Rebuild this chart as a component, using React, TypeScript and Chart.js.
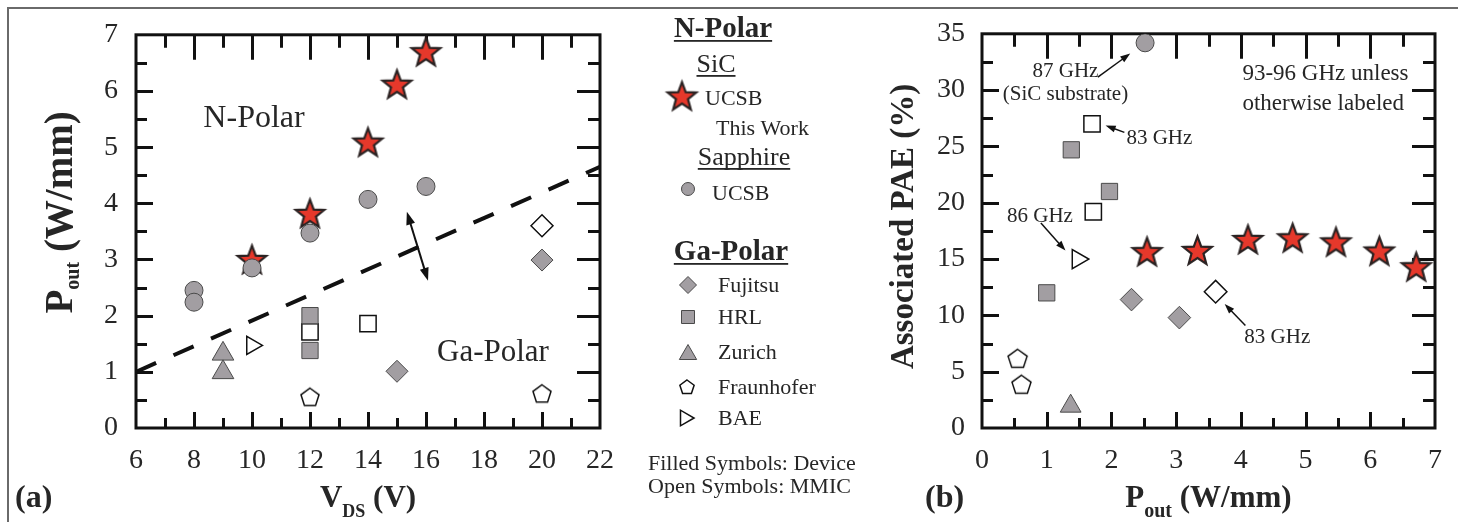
import React, { useEffect, useRef } from 'react';
import { Chart, registerables } from 'chart.js';

Chart.register(...registerables);

const W = 1458;
const H = 522;
const SERIF = '"Liberation Serif", "Times New Roman", serif';
const INK = '#111111';
const TXT = '#262626';
const GRAY = '#a29ea2';
const GRAY_EDGE = '#4a4a4a';
const STAR_RED = '#e6382b';

// ---------- Panel (a): Pout (W/mm) vs VDS (V) ----------
const xTicksA = [6, 8, 10, 12, 14, 16, 18, 20, 22];
const yTicksA = [0, 1, 2, 3, 4, 5, 6, 7];
const starVdsA = [10, 12, 14, 15, 16];
const starPoutA = [3.0, 3.82, 5.09, 6.12, 6.7];
const sapphireVdsA = [8, 8, 10, 12, 14, 16];
const sapphirePoutA = [2.45, 2.24, 2.85, 3.47, 4.07, 4.3];
const fujitsuDevVdsA = [15, 20];
const fujitsuDevPoutA = [1.01, 2.99];
const fujitsuMmicVdsA = [20];
const fujitsuMmicPoutA = [3.6];
const hrlDevVdsA = [12, 12];
const hrlDevPoutA = [2.0, 1.38];
const hrlMmicVdsA = [12, 14];
const hrlMmicPoutA = [1.71, 1.86];
const zurichVdsA = [9, 9];
const zurichPoutA = [1.32, 0.99];
const fraunhoferVdsA = [12, 20];
const fraunhoferPoutA = [0.54, 0.6];
const baeVdsA = [10];
const baePoutA = [1.47];
const trendVdsA = [6, 22];
const trendPoutA = [1.0, 4.65];

// ---------- Panel (b): Associated PAE (%) vs Pout (W/mm) ----------
const xTicksB = [0, 1, 2, 3, 4, 5, 6, 7];
const yTicksB = [0, 5, 10, 15, 20, 25, 30, 35];
const starPoutB = [2.55, 3.33, 4.11, 4.8, 5.47, 6.14, 6.71];
const starPaeB = [15.66, 15.77, 16.74, 16.89, 16.53, 15.72, 14.32];
const sicPoutB = [2.52];
const sicPaeB = [34.2];
const hrlDevPoutB = [1.38, 1.97, 1.0];
const hrlDevPaeB = [24.7, 21.0, 12.0];
const hrlMmicPoutB = [1.7, 1.72];
const hrlMmicPaeB = [27.0, 19.2];
const fujitsuDevPoutB = [2.31, 3.05];
const fujitsuDevPaeB = [11.4, 9.8];
const fujitsuMmicPoutB = [3.61];
const fujitsuMmicPaeB = [12.1];
const zurichPoutB = [1.37];
const zurichPaeB = [1.94];
const fraunhoferPoutB = [0.55, 0.61];
const fraunhoferPaeB = [6.1, 3.8];
const baePoutB = [1.48];
const baePaeB = [15.0];

const pts = (xs: number[], ys: number[]) => xs.map((x, i) => ({ x, y: ys[i] }));

function makeStar(R: number, ratio: number): HTMLCanvasElement {
  const lw = 2.2;
  const size = Math.ceil(2 * R + lw * 2 + 2);
  const c = document.createElement('canvas');
  c.width = size;
  c.height = size;
  const ctx = c.getContext('2d') as CanvasRenderingContext2D;
  ctx.translate(size / 2, size / 2 + R * 0.08);
  ctx.beginPath();
  for (let i = 0; i < 10; i++) {
    const rr = i % 2 === 0 ? R : R * ratio;
    const a = -Math.PI / 2 + (i * Math.PI) / 5;
    const px = Math.cos(a) * rr;
    const py = Math.sin(a) * rr;
    if (i === 0) ctx.moveTo(px, py);
    else ctx.lineTo(px, py);
  }
  ctx.closePath();
  ctx.fillStyle = STAR_RED;
  ctx.fill();
  ctx.lineJoin = 'miter';
  ctx.lineWidth = lw;
  ctx.strokeStyle = '#2a2222';
  ctx.stroke();
  return c;
}

function makePentagon(R: number): HTMLCanvasElement {
  const lw = 1.5;
  const size = Math.ceil(2 * R + lw * 2 + 2);
  const c = document.createElement('canvas');
  c.width = size;
  c.height = size;
  const ctx = c.getContext('2d') as CanvasRenderingContext2D;
  ctx.translate(size / 2, size / 2);
  pentPath(ctx, 0, 0, R);
  ctx.fillStyle = '#ffffff';
  ctx.fill();
  ctx.lineWidth = lw;
  ctx.strokeStyle = INK;
  ctx.stroke();
  return c;
}

function pentPath(ctx: CanvasRenderingContext2D, x: number, y: number, R: number) {
  ctx.beginPath();
  for (let i = 0; i < 5; i++) {
    const a = -Math.PI / 2 + (i * 2 * Math.PI) / 5;
    const px = x + Math.cos(a) * R;
    const py = y + Math.sin(a) * R;
    if (i === 0) ctx.moveTo(px, py);
    else ctx.lineTo(px, py);
  }
  ctx.closePath();
}

type Part = { t: string; size: number; bold?: boolean; dy?: number };

function fontOf(size: number, bold?: boolean) {
  return `${bold ? 'bold ' : ''}${size}px ${SERIF}`;
}

function drawRich(ctx: CanvasRenderingContext2D, parts: Part[], x: number, y: number, align: 'left' | 'center') {
  ctx.textBaseline = 'alphabetic';
  ctx.textAlign = 'left';
  let total = 0;
  for (const p of parts) {
    ctx.font = fontOf(p.size, p.bold);
    total += ctx.measureText(p.t).width;
  }
  let cx = align === 'center' ? x - total / 2 : x;
  for (const p of parts) {
    ctx.font = fontOf(p.size, p.bold);
    ctx.fillText(p.t, cx, y + (p.dy || 0));
    cx += ctx.measureText(p.t).width;
  }
  return total;
}

function text(
  ctx: CanvasRenderingContext2D,
  s: string,
  x: number,
  y: number,
  size: number,
  align: CanvasTextAlign = 'left',
  bold = false,
  underline = 0
) {
  ctx.font = fontOf(size, bold);
  ctx.textAlign = align;
  ctx.textBaseline = 'alphabetic';
  ctx.fillStyle = TXT;
  ctx.fillText(s, x, y);
  if (underline) {
    const w = ctx.measureText(s).width;
    const x0 = align === 'center' ? x - w / 2 : align === 'right' ? x - w : x;
    ctx.fillRect(x0, y + underline, w, 1.8);
  }
}

function arrow(
  ctx: CanvasRenderingContext2D,
  x1: number,
  y1: number,
  x2: number,
  y2: number,
  lw: number,
  hl: number,
  hw: number,
  both: boolean
) {
  const ang = Math.atan2(y2 - y1, x2 - x1);
  const head = (hx: number, hy: number, a: number) => {
    ctx.beginPath();
    ctx.moveTo(hx, hy);
    ctx.lineTo(hx - hl * Math.cos(a) + (hw / 2) * Math.sin(a), hy - hl * Math.sin(a) - (hw / 2) * Math.cos(a));
    ctx.lineTo(hx - hl * Math.cos(a) - (hw / 2) * Math.sin(a), hy - hl * Math.sin(a) + (hw / 2) * Math.cos(a));
    ctx.closePath();
    ctx.fill();
  };
  ctx.save();
  ctx.strokeStyle = INK;
  ctx.fillStyle = INK;
  ctx.lineWidth = lw;
  ctx.beginPath();
  const sx = both ? x1 + hl * 0.8 * Math.cos(ang) : x1;
  const sy = both ? y1 + hl * 0.8 * Math.sin(ang) : y1;
  ctx.moveTo(sx, sy);
  ctx.lineTo(x2 - hl * 0.8 * Math.cos(ang), y2 - hl * 0.8 * Math.sin(ang));
  ctx.stroke();
  head(x2, y2, ang);
  if (both) head(x1, y1, ang + Math.PI);
  ctx.restore();
}

function makeFrame(xMinor: number, yMinor: number) {
  return {
    id: 'frameTicks',
    beforeDatasetsDraw(chart: any) {
      const { ctx, chartArea: a } = chart;
      const sx = chart.scales.x;
      const sy = chart.scales.y;
      ctx.save();
      ctx.strokeStyle = INK;
      ctx.lineWidth = 3;
      ctx.lineCap = 'butt';
      const isMajor = (s: any, v: number) => s.ticks.some((t: any) => Math.abs(t.value - v) < 1e-6);
      const nx = Math.round((sx.max - sx.min) / xMinor);
      for (let i = 1; i < nx; i++) {
        const v = sx.min + i * xMinor;
        const px = Math.round(sx.getPixelForValue(v)) + 0.5;
        const mj = isMajor(sx, v);
        ctx.beginPath();
        ctx.moveTo(px, a.bottom);
        ctx.lineTo(px, a.bottom - (mj ? 16 : 10));
        ctx.moveTo(px, a.top);
        ctx.lineTo(px, a.top + (mj ? 25 : 13));
        ctx.stroke();
      }
      const ny = Math.round((sy.max - sy.min) / yMinor);
      for (let i = 1; i < ny; i++) {
        const v = sy.min + i * yMinor;
        const py = Math.round(sy.getPixelForValue(v)) + 0.5;
        const mj = isMajor(sy, v);
        ctx.beginPath();
        ctx.moveTo(a.left, py);
        ctx.lineTo(a.left + (mj ? 17 : 11), py);
        ctx.moveTo(a.right, py);
        ctx.lineTo(a.right - (mj ? 23 : 12), py);
        ctx.stroke();
      }
      ctx.strokeRect(a.left, a.top, a.right - a.left, a.bottom - a.top);
      ctx.restore();
    },
  };
}

function legendShape(ctx: CanvasRenderingContext2D, kind: string, x: number, y: number, r: number, filled: boolean) {
  ctx.save();
  ctx.beginPath();
  if (kind === 'circle') ctx.arc(x, y, r, 0, Math.PI * 2);
  else if (kind === 'square') ctx.rect(x - r, y - r, 2 * r, 2 * r);
  else if (kind === 'diamond') {
    ctx.moveTo(x - r, y);
    ctx.lineTo(x, y - r);
    ctx.lineTo(x + r, y);
    ctx.lineTo(x, y + r);
    ctx.closePath();
  } else if (kind === 'triangle') {
    for (let i = 0; i < 3; i++) {
      const a = -Math.PI / 2 + (i * 2 * Math.PI) / 3;
      const px = x + Math.cos(a) * r;
      const py = y + Math.sin(a) * r;
      if (i === 0) ctx.moveTo(px, py);
      else ctx.lineTo(px, py);
    }
    ctx.closePath();
  } else if (kind === 'triRight') {
    for (let i = 0; i < 3; i++) {
      const a = (i * 2 * Math.PI) / 3;
      const px = x + Math.cos(a) * r;
      const py = y + Math.sin(a) * r;
      if (i === 0) ctx.moveTo(px, py);
      else ctx.lineTo(px, py);
    }
    ctx.closePath();
  } else if (kind === 'pentagon') {
    pentPath(ctx, x, y, r);
  }
  ctx.fillStyle = filled ? GRAY : '#ffffff';
  ctx.fill();
  ctx.lineWidth = filled ? 1 : 1.5;
  ctx.strokeStyle = filled ? GRAY_EDGE : INK;
  ctx.stroke();
  ctx.restore();
}

const tickFont = { family: SERIF, size: 28 };

function baseOptions(pad: any, yWidth: number, xr: number[], yr: number[], xStep: number, yStep: number, yPad: number) {
  return {
    animation: false as const,
    responsive: false,
    devicePixelRatio: 1,
    events: [] as any[],
    layout: { padding: pad },
    plugins: { legend: { display: false }, tooltip: { enabled: false } },
    scales: {
      x: {
        type: 'linear' as const,
        min: xr[0],
        max: xr[xr.length - 1],
        afterBuildTicks: (s: any) => {
          s.ticks = xr.map((v) => ({ value: v }));
        },
        ticks: { stepSize: xStep, font: tickFont, color: TXT, padding: 16, autoSkip: false, maxRotation: 0 },
        grid: { display: false, drawTicks: false },
        border: { display: false },
        afterFit: (s: any) => {
          s.height = 94;
        },
      },
      y: {
        type: 'linear' as const,
        min: yr[0],
        max: yr[yr.length - 1],
        afterBuildTicks: (s: any) => {
          s.ticks = yr.map((v) => ({ value: v }));
        },
        ticks: { stepSize: yStep, font: tickFont, color: TXT, padding: yPad, autoSkip: false },
        grid: { display: false, drawTicks: false },
        border: { display: false },
        afterFit: (s: any) => {
          s.width = yWidth;
        },
      },
    },
  };
}

export default function App() {
  const refA = useRef<HTMLCanvasElement>(null);
  const refB = useRef<HTMLCanvasElement>(null);

  useEffect(() => {
    const star = makeStar(15, 0.42);
    const pentA = makePentagon(9.5);
    const pentB = makePentagon(10);
    const grayStyle = { backgroundColor: GRAY, borderColor: GRAY_EDGE, borderWidth: 1 };
    const openStyle = { backgroundColor: '#ffffff', borderColor: INK, borderWidth: 1.5 };

    const annotA = {
      id: 'annotA',
      afterDraw(chart: any) {
        const { ctx, chartArea: a } = chart;
        const X = (v: number) => chart.scales.x.getPixelForValue(v);
        const Y = (v: number) => chart.scales.y.getPixelForValue(v);
        ctx.save();
        text(ctx, 'N-Polar', X(10.07), Y(5.355), 32, 'center');
        text(ctx, 'Ga-Polar', X(18.31), Y(1.19), 31, 'center');
        arrow(ctx, X(15.34), Y(3.85), X(16.07), Y(2.62), 2, 13, 9, true);

        // axis titles
        ctx.fillStyle = TXT;
        drawRich(
          ctx,
          [
            { t: 'V', size: 31, bold: true },
            { t: 'DS', size: 18, bold: true, dy: 10 },
            { t: ' (V)', size: 31, bold: true },
          ],
          (a.left + a.right) / 2,
          a.bottom + 79,
          'center'
        );
        ctx.save();
        ctx.translate(a.left - 64, (a.top + a.bottom) / 2 - 19);
        ctx.rotate(-Math.PI / 2);
        drawRich(
          ctx,
          [
            { t: 'P', size: 39, bold: true },
            { t: 'out', size: 20, bold: true, dy: 7 },
            { t: ' (W/mm)', size: 39, bold: true },
          ],
          0,
          0,
          'center'
        );
        ctx.restore();
        text(ctx, '(a)', 15, 507, 32, 'left', true);

        // legend
        text(ctx, 'N-Polar', 723, 37, 29, 'center', true, 3);
        text(ctx, 'SiC', 716, 72, 26, 'center', false, 3);
        ctx.drawImage(star, 682 - star.width / 2, 96 - star.height / 2);
        text(ctx, 'UCSB', 705, 105, 22);
        text(ctx, 'This Work', 716, 135, 22);
        text(ctx, 'Sapphire', 744, 165, 26, 'center', false, 3);
        legendShape(ctx, 'circle', 688, 189, 6.5, true);
        text(ctx, 'UCSB', 712, 200, 22);
        text(ctx, 'Ga-Polar', 731, 260, 29, 'center', true, 3);
        legendShape(ctx, 'diamond', 688, 285, 8.5, true);
        text(ctx, 'Fujitsu', 718, 292, 22);
        legendShape(ctx, 'square', 688, 317, 6.5, true);
        text(ctx, 'HRL', 718, 324, 22);
        legendShape(ctx, 'triangle', 688, 354.5, 10, true);
        text(ctx, 'Zurich', 718, 359, 22);
        legendShape(ctx, 'pentagon', 687, 387.5, 7.5, false);
        text(ctx, 'Fraunhofer', 718, 394, 22);
        legendShape(ctx, 'triRight', 685, 418, 9, false);
        text(ctx, 'BAE', 718, 425, 22);
        text(ctx, 'Filled Symbols: Device', 648, 470, 22);
        text(ctx, 'Open Symbols: MMIC', 648, 493, 22);
        ctx.restore();
      },
    };

    const annotB = {
      id: 'annotB',
      afterDraw(chart: any) {
        const { ctx, chartArea: a } = chart;
        const X = (v: number) => chart.scales.x.getPixelForValue(v);
        const Y = (v: number) => chart.scales.y.getPixelForValue(v);
        ctx.save();
        text(ctx, '87 GHz', X(1.29), Y(31.15), 21, 'center');
        text(ctx, '(SiC substrate)', X(1.29), Y(29.13), 21, 'center');
        arrow(ctx, X(1.79), Y(31.15), X(2.29), Y(33.25), 1.5, 10, 7, false);
        text(ctx, '83 GHz', X(2.232), Y(25.2), 21, 'left');
        arrow(ctx, X(2.2), Y(26.25), X(1.91), Y(26.86), 1.5, 10, 7, false);
        text(ctx, '86 GHz', X(0.896), Y(18.29), 21, 'center');
        arrow(ctx, X(0.91), Y(18.2), X(1.29), Y(15.75), 1.5, 10, 7, false);
        text(ctx, '83 GHz', X(4.563), Y(7.52), 21, 'center');
        arrow(ctx, X(4.07), Y(9.1), X(3.75), Y(11.02), 1.5, 10, 7, false);
        text(ctx, '93-96 GHz unless', X(4.024), Y(30.88), 23, 'left');
        text(ctx, 'otherwise labeled', X(4.024), Y(28.26), 23, 'left');

        ctx.fillStyle = TXT;
        drawRich(
          ctx,
          [
            { t: 'P', size: 31, bold: true },
            { t: 'out', size: 20, bold: true, dy: 10 },
            { t: ' (W/mm)', size: 31, bold: true },
          ],
          (a.left + a.right) / 2,
          a.bottom + 79,
          'center'
        );
        ctx.save();
        ctx.translate(a.left - 69, (a.top + a.bottom) / 2 - 4.5);
        ctx.rotate(-Math.PI / 2);
        drawRich(ctx, [{ t: 'Associated PAE (%)', size: 33, bold: true }], 0, 0, 'center');
        ctx.restore();
        text(ctx, '(b)', 925, 507, 32, 'left', true);
        ctx.restore();
      },
    };

    const chartA = new Chart(refA.current as HTMLCanvasElement, {
      type: 'scatter',
      data: {
        datasets: [
          { data: pts(sapphireVdsA, sapphirePoutA), pointStyle: 'circle', pointRadius: 9, ...grayStyle },
          { data: pts(starVdsA, starPoutA), pointStyle: star as any, pointRadius: 15 },
          { data: pts(fujitsuDevVdsA, fujitsuDevPoutA), pointStyle: 'rectRot', pointRadius: 11, ...grayStyle },
          { data: pts(fujitsuMmicVdsA, fujitsuMmicPoutA), pointStyle: 'rectRot', pointRadius: 11, ...openStyle },
          { data: pts(hrlDevVdsA, hrlDevPoutA), pointStyle: 'rect', pointRadius: 11.5, ...grayStyle },
          { data: pts(hrlMmicVdsA, hrlMmicPoutA), pointStyle: 'rect', pointRadius: 11.5, ...openStyle },
          { data: pts(zurichVdsA, zurichPoutA), pointStyle: 'triangle', pointRadius: 12.5, ...grayStyle },
          { data: pts(fraunhoferVdsA, fraunhoferPoutA), pointStyle: pentA as any, pointRadius: 10 },
          {
            data: pts(baeVdsA, baePoutA),
            pointStyle: 'triangle',
            pointRotation: 90,
            pointRadius: 10.5,
            ...openStyle,
          },
          {
            data: pts(trendVdsA, trendPoutA),
            showLine: true,
            pointRadius: 0,
            borderColor: INK,
            borderWidth: 4,
            borderDash: [22, 19],
            fill: false,
          } as any,
        ],
      },
      options: baseOptions({ left: 0, top: 28, right: 858, bottom: 0 }, 136, xTicksA, yTicksA, 2, 1, 18) as any,
      plugins: [makeFrame(1, 0.5), annotA],
    });

    const chartB = new Chart(refB.current as HTMLCanvasElement, {
      type: 'scatter',
      data: {
        datasets: [
          { data: pts(sicPoutB, sicPaeB), pointStyle: 'circle', pointRadius: 9, ...grayStyle },
          { data: pts(starPoutB, starPaeB), pointStyle: star as any, pointRadius: 15 },
          { data: pts(hrlDevPoutB, hrlDevPaeB), pointStyle: 'rect', pointRadius: 11.5, ...grayStyle },
          { data: pts(hrlMmicPoutB, hrlMmicPaeB), pointStyle: 'rect', pointRadius: 11.5, ...openStyle },
          { data: pts(fujitsuDevPoutB, fujitsuDevPaeB), pointStyle: 'rectRot', pointRadius: 11.3, ...grayStyle },
          { data: pts(fujitsuMmicPoutB, fujitsuMmicPaeB), pointStyle: 'rectRot', pointRadius: 11.3, ...openStyle },
          { data: pts(zurichPoutB, zurichPaeB), pointStyle: 'triangle', pointRadius: 12, ...grayStyle },
          { data: pts(fraunhoferPoutB, fraunhoferPaeB), pointStyle: pentB as any, pointRadius: 10 },
          {
            data: pts(baePoutB, baePaeB),
            pointStyle: 'triangle',
            pointRotation: 90,
            pointRadius: 11,
            ...openStyle,
          },
        ],
      },
      options: baseOptions({ left: 860, top: 28, right: 15, bottom: 0 }, 122, xTicksB, yTicksB, 1, 5, 17) as any,
      plugins: [makeFrame(0.5, 2.5), annotB],
    });

    return () => {
      chartA.destroy();
      chartB.destroy();
    };
  }, []);

  return (
    <div style={{ position: 'fixed', left: 0, top: 0, width: W, height: H, background: '#ffffff', overflow: 'hidden' }}>
      <div
        style={{
          position: 'absolute',
          left: 7,
          top: 7,
          width: W - 7,
          height: H - 7,
          borderTop: '2px solid #6a6a6a',
          borderLeft: '2px solid #6a6a6a',
          boxSizing: 'border-box',
        }}
      />
      <canvas ref={refA} width={W} height={H} style={{ position: 'absolute', left: 0, top: 0 }} />
      <canvas ref={refB} width={W} height={H} style={{ position: 'absolute', left: 0, top: 0 }} />
    </div>
  );
}
